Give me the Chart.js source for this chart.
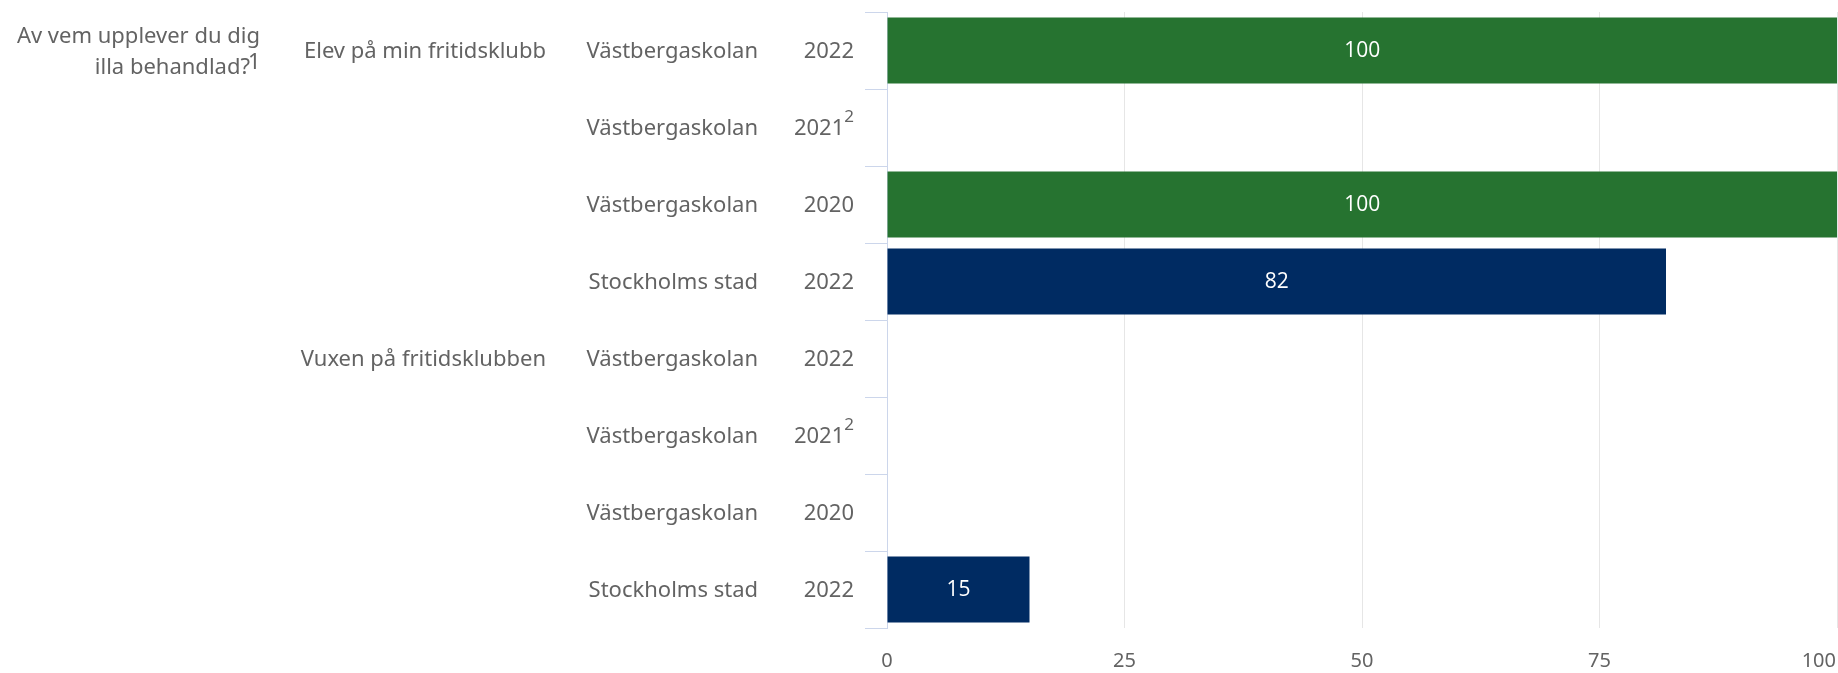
<!DOCTYPE html>
<html>
<head>
<meta charset="utf-8">
<script src="https://cdn.jsdelivr.net/npm/chart.js@4/dist/chart.umd.min.js"></script>
<style>
    html, body { margin: 0; padding: 0; background: #fff; }
    #wrap { width: 1838px; height: 673px; }
</style>
</head>
<body>
<div id="wrap"><canvas id="chart" width="1838" height="673"></canvas></div>
<script>
/* Grouped horizontal bars — "Av vem upplever du dig illa behandlad?" */
var questionLines = ["Av vem upplever du dig", "illa behandlad?"];
var questionNote = "1";
var groupLabels = ["Elev på min fritidsklubb", "Vuxen på fritidsklubben"];
var groupSize = 4;
var units = ["Västbergaskolan", "Västbergaskolan", "Västbergaskolan", "Stockholms stad",
             "Västbergaskolan", "Västbergaskolan", "Västbergaskolan", "Stockholms stad"];
var years = ["2022", "2021", "2020", "2022", "2022", "2021", "2020", "2022"];
var yearNotes = ["", "2", "", "", "", "2", "", ""];
var values = [100, null, 100, 82, null, null, null, 15];
var xTicks = [0, 25, 50, 75, 100];

(function () {
    "use strict";

    var GREEN = "#267330";
    var NAVY = "#002b62";
    var TEXT = "#636363";
    var FONT = "'Noto Sans', sans-serif";

    function unitColor(u) {
        return u === "Stockholms stad" ? NAVY : GREEN;
    }

    var rowLabels = units.map(function (u, i) { return u + " " + years[i]; });

    /* Category labels in four columns, plus value labels in the bars */
    var labelPlugin = {
        id: "groupedLabels",
        afterDraw: function (chart) {
            var c = chart.ctx;
            var y = chart.scales.y;
            var x = chart.scales.x;
            c.save();
            c.fillStyle = TEXT;
            c.textBaseline = "middle";

            /* year column with superscript notes */
            years.forEach(function (yr, i) {
                var py = y.getPixelForValue(i);
                var right = 854;
                if (yearNotes[i]) {
                    c.font = "17px " + FONT;
                    c.textAlign = "right";
                    c.fillText(yearNotes[i], right, py - 10);
                    right -= c.measureText(yearNotes[i]).width;
                }
                c.font = "22px " + FONT;
                c.textAlign = "right";
                c.fillText(yr, right, py + 1);
            });

            /* unit column */
            c.font = "22px " + FONT;
            c.textAlign = "right";
            units.forEach(function (u, i) {
                c.fillText(u, 758, y.getPixelForValue(i) + 1);
            });

            /* group column: placed on the group's first row */
            groupLabels.forEach(function (g, gi) {
                c.fillText(g, 546, y.getPixelForValue(gi * groupSize) + 1);
            });

            /* question */
            var qy = y.getPixelForValue(0);
            c.fillText(questionLines[0], 260, qy - 14);
            c.fillText(questionLines[1], 250, qy + 17);
            c.textAlign = "left";
            c.fillText(questionNote, 248, qy + 12);

            /* x tick labels; last one kept inside the canvas */
            c.font = "20px " + FONT;
            xTicks.forEach(function (t, i) {
                var px = x.getPixelForValue(t);
                c.textAlign = (i === xTicks.length - 1) ? "right" : "center";
                if (i === xTicks.length - 1) px = chart.width - 2;
                c.fillText(String(t), px, 661);
            });

            /* value labels */
            c.font = "21px 'Open Sans', sans-serif";
            c.fillStyle = "#ffffff";
            c.textAlign = "center";
            chart.getDatasetMeta(0).data.forEach(function (bar, i) {
                if (values[i] == null) return;
                c.fillText(String(values[i]), (bar.base + bar.x) / 2, bar.y + 1);
            });
            c.restore();
        }
    };

    new Chart(document.getElementById("chart").getContext("2d"), {
        type: "bar",
        data: {
            labels: rowLabels,
            datasets: [{
                data: values,
                backgroundColor: units.map(unitColor),
                borderWidth: 0,
                barPercentage: 0.86,
                categoryPercentage: 1
            }]
        },
        options: {
            indexAxis: "y",
            responsive: false,
            animation: false,
            layout: { padding: { top: 12, right: 1, left: 0, bottom: 0 } },
            plugins: { legend: { display: false }, tooltip: { enabled: false } },
            scales: {
                x: {
                    min: 0,
                    max: 100,
                    ticks: { stepSize: 25, display: false },
                    grid: { color: "#e6e6e6", drawTicks: false },
                    border: { display: false },
                    afterFit: function (s) { s.height = 45; s.paddingLeft = 0; s.paddingRight = 0; }
                },
                y: {
                    ticks: { display: false },
                    grid: { offset: true, drawOnChartArea: false, color: "#ccd6eb", tickLength: 22 },
                    border: { color: "#ccd6eb" },
                    afterFit: function (s) { s.width = 887; }
                }
            }
        },
        plugins: [labelPlugin]
    });
})();
</script>
</body>
</html>
